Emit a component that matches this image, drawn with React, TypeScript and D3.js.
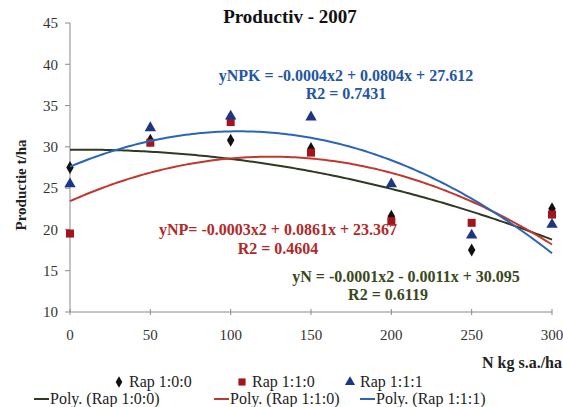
import React from "react";
import * as d3 from "d3";

const nLevels = [0, 50, 100, 150, 200, 250, 300];
const rap100 = [27.5, 30.8, 30.8, 29.8, 21.6, 17.5, 22.5];
const rap110 = [19.5, 30.5, 33.0, 29.3, 21.0, 20.8, 21.8];
const rap111 = [25.5, 32.3, 33.7, 33.6, 25.5, 19.3, 20.6];
const yTicks = [10, 15, 20, 25, 30, 35, 40, 45];
const seriesNames = ["Rap 1:0:0", "Rap 1:1:0", "Rap 1:1:1"];
const eqNPK = ["yNPK = -0.0004x2 + 0.0804x + 27.612", "R2 = 0.7431"];
const eqNP = ["yNP= -0.0003x2 + 0.0861x + 23.367", "R2 = 0.4604"];
const eqN = ["yN = -0.0001x2 - 0.0011x + 30.095", "R2 = 0.6119"];

function quadFit(xs: number[], ys: number[]) {
  const n = xs.length;
  const s = [0, 0, 0, 0, 0];
  const t = [0, 0, 0];
  for (let i = 0; i < n; i++) {
    const x = xs[i], y = ys[i];
    for (let k = 0; k < 5; k++) s[k] += Math.pow(x, k);
    for (let k = 0; k < 3; k++) t[k] += y * Math.pow(x, k);
  }
  const M = [
    [s[0], s[1], s[2], t[0]],
    [s[1], s[2], s[3], t[1]],
    [s[2], s[3], s[4], t[2]],
  ];
  for (let i = 0; i < 3; i++) {
    let p = i;
    for (let r = i + 1; r < 3; r++) if (Math.abs(M[r][i]) > Math.abs(M[p][i])) p = r;
    [M[i], M[p]] = [M[p], M[i]];
    for (let r = 0; r < 3; r++) {
      if (r === i) continue;
      const f = M[r][i] / M[i][i];
      for (let c = i; c < 4; c++) M[r][c] -= f * M[i][c];
    }
  }
  const coef = [M[0][3] / M[0][0], M[1][3] / M[1][1], M[2][3] / M[2][2]];
  return (x: number) => coef[0] + coef[1] * x + coef[2] * x * x;
}

const FONT = "'Liberation Serif', 'Times New Roman', serif";

export default function App() {
  const W = 563, H = 407;
  const x = d3.scaleLinear().domain([0, 300]).range([70, 552]);
  const y = d3.scaleLinear().domain([10, 45]).range([312, 23]);

  const series = [
    { data: rap100, marker: "diamond", mColor: "#111111", lColor: "#2e3a22" },
    { data: rap110, marker: "square", mColor: "#a3141c", lColor: "#c0392f" },
    { data: rap111, marker: "triangle", mColor: "#1d3585", lColor: "#2a66b8" },
  ];

  const xs = d3.range(0, 300.5, 2);
  const line = d3.line<[number, number]>().x(d => x(d[0])).y(d => y(d[1]));

  const symbolFor = (m: string) =>
    m === "diamond" ? d3.symbolDiamond : m === "square" ? d3.symbolSquare : d3.symbolTriangle;
  const sizeFor = (m: string) => (m === "diamond" ? 48 : m === "square" ? 64 : 56);

  const marker = (m: string, color: string, cx: number, cy: number, key: string, scale = 1) => (
    <path
      key={key}
      d={d3.symbol().type(symbolFor(m)).size(sizeFor(m) * scale)() as string}
      transform={`translate(${cx},${cy})`}
      fill={color}
    />
  );

  const legendCols = [0, 1, 2];
  const row1X = [119, 242, 350];
  const row2X = [34, 214, 360];

  return (
    <svg width={W} height={H} fontFamily={FONT} style={{ display: "block", position: "absolute", left: 0, top: 0 }}>
      <rect width={W} height={H} fill="#ffffff" />
      <text x={290} y={23} textAnchor="middle" fontWeight="bold" fontSize={19} fill="#111">Productiv - 2007</text>

      <line x1={x(0)} x2={x(0)} y1={y(45)} y2={y(10)} stroke="#8a8a8a" strokeWidth={1} />
      <line x1={x(0)} x2={x(300)} y1={y(10)} y2={y(10)} stroke="#8a8a8a" strokeWidth={1} />
      {yTicks.map(t => (
        <g key={"y" + t}>
          <line x1={x(0) - 5} x2={x(0)} y1={y(t)} y2={y(t)} stroke="#8a8a8a" />
          <text x={58} y={y(t)} dy="0.35em" textAnchor="end" fontSize={15} fill="#333">{t}</text>
        </g>
      ))}
      {nLevels.map(t => (
        <g key={"x" + t}>
          <line x1={x(t)} x2={x(t)} y1={y(10) - 3} y2={y(10) + 3} stroke="#8a8a8a" />
          <text x={x(t)} y={340} textAnchor="middle" fontSize={15} fill="#333">{t}</text>
        </g>
      ))}
      <text x={562} y={368} textAnchor="end" fontWeight="bold" fontSize={16} fill="#222">N kg s.a./ha</text>
      <text transform={`translate(26,185) rotate(-90)`} textAnchor="middle" fontWeight="bold" fontSize={15} fill="#222">Productie t/ha</text>

      {series.map((s, si) =>
        s.data.map((v, i) => marker(s.marker, s.mColor, x(nLevels[i]), y(v), `m${si}-${i}`))
      )}

      {series.map((s, si) => {
        const f = quadFit(nLevels, s.data);
        return (
          <path key={"l" + si} d={line(xs.map(v => [v, f(v)] as [number, number])) as string}
            fill="none" stroke={s.lColor} strokeWidth={2} />
        );
      })}

      <g fontWeight="bold" fontSize={16}>
        <text x={346} y={81} textAnchor="middle" fill="#2356a3">{eqNPK[0]}</text>
        <text x={346} y={99} textAnchor="middle" fill="#2356a3">{eqNPK[1]}</text>
        <text x={278} y={235} textAnchor="middle" fill="#b02a2a">{eqNP[0]}</text>
        <text x={278} y={254} textAnchor="middle" fill="#b02a2a">{eqNP[1]}</text>
        <text x={406} y={282} textAnchor="middle" fill="#3a4820">{eqN[0]}</text>
        <text x={388} y={300} textAnchor="middle" fill="#3a4820">{eqN[1]}</text>
      </g>

      <g fontSize={16} fill="#222">
        {legendCols.map(si => {
          const s = series[si];
          const lx = row1X[si];
          return (
            <g key={"lg" + si}>
              {marker(s.marker, s.mColor, lx, 382, "lgm" + si, 0.8)}
              <text x={lx + 10} y={387}>{seriesNames[si]}</text>
            </g>
          );
        })}
        {legendCols.map(si => {
          const s = series[si];
          const lx = row2X[si];
          return (
            <g key={"lgl" + si}>
              <line x1={lx} x2={lx + 15} y1={399} y2={399} stroke={s.lColor} strokeWidth={2} />
              <text x={lx + 16} y={404}>{`Poly. (${seriesNames[si]})`}</text>
            </g>
          );
        })}
      </g>
    </svg>
  );
}
